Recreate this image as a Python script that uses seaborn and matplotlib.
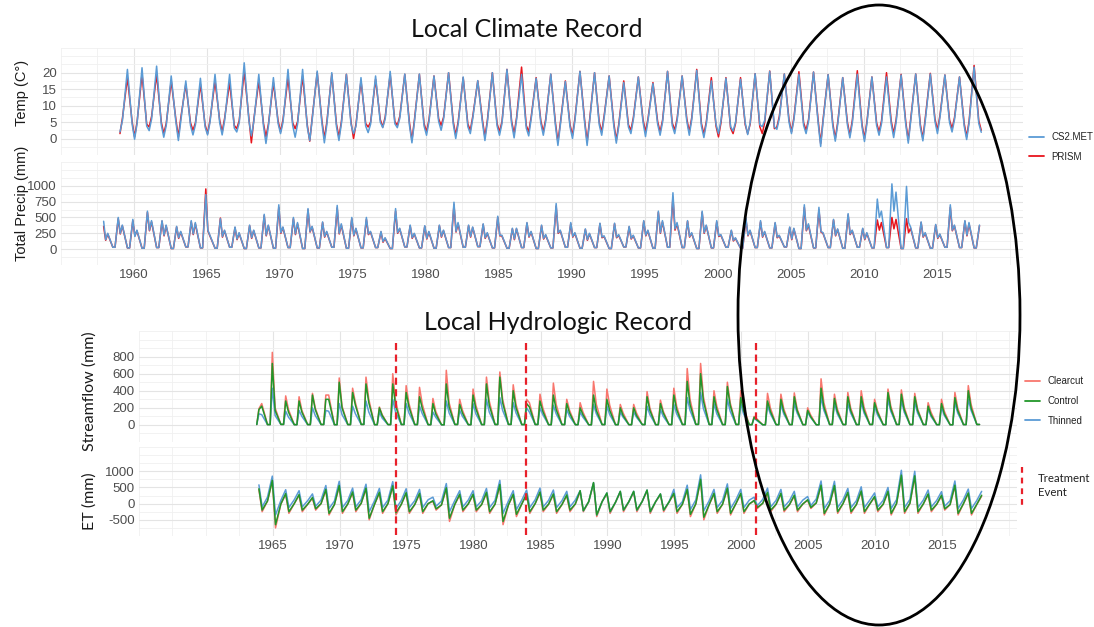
import numpy as np
import pandas as pd
import matplotlib
matplotlib.use("Agg")
import matplotlib.pyplot as plt
import matplotlib.transforms as mtransforms
from matplotlib.lines import Line2D
from matplotlib.patches import Ellipse
import seaborn as sns

# ----------------------------------------------------------------- data
# Temperature (deg C) per calendar year: Jan minimum, Mar, Jul maximum, Nov
TEMP_FIRST_YEAR = 1959
temp_max_cs2met = [21.0, 21.5, 22.0, 19.0, 17.5, 18.3, 19.5, 19.5, 23.0, 19.5,
                   18.5, 21.0, 21.0, 20.5, 20.0, 19.5, 18.5, 19.0, 20.4, 19.6,
                   19.6, 19.0, 20.0, 18.7, 17.6, 20.0, 21.0, 19.5, 18.3, 19.6,
                   17.3, 20.4, 20.0, 19.0, 17.0, 18.7, 16.7, 20.4, 19.0, 20.7,
                   17.5, 18.3, 18.0, 19.7, 20.4, 19.6, 19.5, 20.2, 19.4, 18.5,
                   19.5, 18.7, 18.7, 19.3, 19.6, 19.6, 19.3, 18.7, 21.7]
temp_min_cs2met = [2.0, -0.2, 2.4, 0.4, -0.6, 1.1, 1.1, 1.1, 2.0, 0.8,
                   -1.5, 1.5, 0.4, -0.6, -1.3, -0.6, 1.5, 1.8, 3.3, 3.3,
                   -1.3, 1.0, 2.5, 0.0, 1.5, -0.6, 1.0, 0.2, 0.8, 1.0,
                   -2.1, 0.0, -2.1, 1.0, -1.4, 1.5, 0.6, 1.0, 1.5, 1.0,
                   0.3, 1.5, 2.3, 1.2, 3.6, 2.8, 1.5, 1.5, -2.4, -0.8,
                   0.2, -0.9, 1.0, 0.3, -1.4, -0.7, 1.5, 2.0, -0.3, 1.9]
temp_mar_cs2met = [5.5, 4.5, 6.0, 4.0, 5.5, 4.2, 5.0, 5.5, 4.8, 5.2,
                   3.8, 5.0, 4.5, 5.8, 4.2, 4.6, 3.8, 4.4, 6.0, 6.2,
                   5.0, 5.2, 6.0, 4.5, 6.2, 5.0, 4.6, 5.8, 6.0, 5.4,
                   4.2, 5.6, 5.0, 6.4, 3.8, 5.8, 5.4, 5.0, 5.6, 5.8,
                   4.6, 5.4, 5.0, 4.8, 5.6, 6.2, 5.8, 5.2, 5.4, 4.4,
                   4.8, 4.6, 4.6, 5.0, 5.4, 5.6, 6.4, 5.8, 4.8]
temp_nov_cs2met = [4.5, 3.8, 4.2, 5.0, 4.0, 3.5, 4.8, 3.2, 5.5, 3.8,
                   4.6, 4.0, 3.5, 4.8, 3.6, 4.2, 3.8, 5.0, 4.5, 4.0,
                   3.8, 5.2, 4.4, 3.6, 4.8, 3.9, 4.5, 3.2, 4.6, 4.0,
                   3.5, 4.8, 4.2, 3.8, 3.5, 5.0, 4.4, 4.0, 5.2, 3.8,
                   4.4, 3.6, 4.8, 4.2, 3.5, 5.0, 4.0, 4.6, 3.8, 4.2,
                   3.6, 4.0, 4.5, 4.2, 3.4, 5.2, 4.8, 3.8, 4.6]
temp_max_prism = [18.5, 19.5, 19.5, 17.5, 16.5, 16.5, 17.5, 17.0, 20.5, 17.5,
                  17.0, 18.5, 19.0, 20.0, 19.5, 19.5, 17.5, 18.0, 19.5, 19.5,
                  19.5, 19.0, 20.0, 18.5, 17.5, 20.0, 21.0, 21.7, 18.5, 19.5,
                  17.5, 20.4, 20.0, 19.0, 17.5, 18.7, 17.0, 20.4, 19.0, 21.0,
                  18.5, 18.5, 18.5, 19.7, 20.5, 19.6, 20.3, 20.2, 19.4, 18.5,
                  20.6, 18.7, 20.0, 19.5, 19.6, 19.8, 19.3, 18.7, 22.2]
temp_min_prism = [1.5, 0.5, 3.5, 1.5, 0.5, 2.5, 1.5, 2.0, 3.0, -1.3,
                  0.5, 2.0, 3.0, -0.8, 0.0, 0.5, 0.0, 3.5, 3.5, 4.0,
                  -0.5, 2.0, 4.0, 1.0, 2.5, 0.5, 2.0, 1.5, 2.0, 2.0,
                  -1.0, 1.0, -1.0, 2.0, -0.5, 2.5, 2.0, 2.0, 2.5, 2.0,
                  1.3, 0.5, 1.5, 1.5, 1.5, 3.5, 2.0, 2.5, -1.5, 0.0,
                  1.0, 0.0, 2.0, 1.5, -0.5, 0.0, 2.5, 3.0, 0.5, 2.5]
temp_mar_prism = [6.2, 5.0, 6.8, 4.6, 6.4, 4.8, 5.6, 6.2, 5.5, 5.8,
                  4.4, 5.8, 5.2, 6.4, 5.0, 5.2, 4.5, 5.0, 6.6, 6.8,
                  5.6, 5.8, 6.5, 5.2, 6.8, 5.6, 5.2, 6.4, 6.6, 6.0,
                  4.8, 6.2, 5.6, 7.0, 4.4, 6.4, 6.0, 5.6, 6.2, 6.4,
                  5.2, 4.8, 4.6, 4.4, 5.0, 6.8, 6.4, 5.8, 6.0, 5.0,
                  5.6, 5.2, 5.4, 5.8, 6.0, 6.4, 7.0, 6.4, 5.4]
temp_nov_prism = [5.2, 4.4, 5.0, 5.8, 4.8, 4.2, 5.6, 4.0, 6.2, 4.6,
                  5.4, 4.8, 4.2, 5.6, 4.4, 5.0, 4.6, 5.8, 5.2, 4.8,
                  4.6, 6.0, 5.2, 4.4, 5.6, 4.6, 5.2, 4.0, 5.4, 4.8,
                  4.2, 5.6, 5.0, 4.6, 4.2, 5.8, 5.2, 4.8, 6.0, 4.6,
                  3.8, 3.2, 4.2, 3.6, 3.0, 5.8, 4.8, 5.4, 4.6, 5.0,
                  4.4, 4.8, 5.4, 5.0, 4.2, 6.0, 5.6, 4.6, 5.4]

# Total precipitation (mm) per winter: early-Dec peak, Jan, Mar, summer low
PRECIP_FIRST_WINTER = 1958
precip_winter_cs2met = [440, 500, 470, 600, 450, 360, 450, 860, 480, 350,
                        380, 550, 700, 500, 640, 430, 690, 500, 500, 280,
                        640, 380, 370, 380, 740, 380, 400, 520, 330, 420,
                        380, 720, 420, 320, 410, 410, 360, 450, 600, 890,
                        450, 600, 450, 300, 490, 450, 420, 350, 700, 660,
                        470, 560, 330, 790, 1030, 990, 430, 390, 700, 450,
                        380]
precip_winter_prism = [360, 480, 450, 580, 440, 350, 430, 950, 490, 340,
                       370, 530, 660, 480, 620, 420, 650, 480, 470, 270,
                       600, 370, 360, 370, 700, 370, 390, 500, 320, 410,
                       370, 680, 400, 310, 400, 400, 350, 440, 580, 820,
                       440, 580, 430, 290, 470, 430, 410, 340, 660, 620,
                       460, 540, 320, 460, 500, 480, 420, 380, 660, 440,
                       370]
precip_jan_cs2met = [150, 250, 200, 300, 220, 180, 240, 300, 200, 160,
                     180, 220, 260, 240, 280, 200, 250, 220, 240, 120,
                     260, 180, 170, 200, 280, 200, 180, 220, 160, 200,
                     170, 260, 200, 150, 190, 190, 170, 220, 260, 320,
                     200, 260, 210, 140, 220, 200, 190, 160, 300, 280,
                     220, 240, 160, 500, 600, 420, 200, 180, 300, 220]
precip_jan_prism = [140, 240, 210, 290, 210, 170, 230, 290, 190, 150,
                    170, 210, 250, 230, 270, 190, 240, 210, 230, 110,
                    250, 170, 160, 190, 270, 190, 170, 210, 150, 190,
                    160, 250, 190, 140, 180, 180, 160, 210, 250, 300,
                    190, 250, 200, 130, 210, 190, 180, 150, 290, 270,
                    210, 230, 150, 300, 320, 260, 190, 170, 290, 210]
precip_spring_cs2met = [250, 380, 300, 450, 380, 280, 420, 220, 300, 260,
                        300, 380, 350, 420, 360, 280, 400, 330, 280, 180,
                        330, 250, 280, 300, 420, 350, 260, 220, 330, 280,
                        230, 300, 260, 250, 210, 230, 220, 300, 450, 420,
                        260, 380, 230, 180, 300, 280, 220, 330, 400, 260,
                        320, 300, 260, 600, 900, 350, 260, 240, 380, 420]
precip_spring_prism = [240, 370, 290, 430, 370, 270, 400, 210, 290, 250,
                       290, 370, 340, 400, 350, 270, 380, 320, 270, 170,
                       320, 240, 270, 290, 400, 340, 250, 210, 320, 270,
                       220, 290, 250, 240, 200, 220, 210, 290, 430, 400,
                       250, 370, 220, 170, 290, 270, 210, 320, 380, 250,
                       310, 290, 250, 420, 470, 330, 250, 230, 370, 400]
precip_summer = [30, 20, 15, 25, 10, 35, 20, 15, 30, 10,
                 20, 15, 25, 10, 20, 30, 15, 20, 25, 10,
                 35, 20, 15, 25, 30, 40, 20, 15, 25, 10,
                 20, 30, 15, 25, 10, 35, 20, 15, 30, 25,
                 10, 20, 30, 15, 25, 20, 35, 10, 20, 25,
                 15, 30, 20, 25, 10, 20, 15, 30, 25, 20]

# Streamflow (mm) per water year: winter peak (Dec), spring (Mar); summer baseflow
FLOW_FIRST_WY = 1964
FLOW_FIRST_SUMMER = 1963
flow_peak_clearcut = [190, 850, 340, 330, 370, 350, 550, 430, 560, 210,
                      600, 460, 440, 310, 640, 300, 420, 560, 620, 470,
                      300, 360, 490, 300, 260, 510, 420, 240, 240, 390,
                      290, 430, 660, 720, 400, 500, 400, 100, 370, 360,
                      375, 200, 540, 360, 380, 400, 300, 420, 410, 370,
                      260, 300, 380, 460]
flow_peak_control = [180, 720, 280, 280, 350, 300, 500, 380, 480, 200,
                     480, 380, 330, 250, 480, 240, 350, 480, 560, 400,
                     250, 280, 350, 250, 200, 350, 300, 200, 200, 330,
                     250, 350, 510, 600, 330, 450, 320, 90, 280, 300,
                     330, 170, 430, 310, 330, 330, 260, 380, 360, 330,
                     220, 250, 320, 400]
flow_peak_thinned = [130, 430, 160, 170, 200, 170, 250, 220, 280, 150,
                     300, 250, 220, 150, 280, 170, 250, 300, 320, 260,
                     200, 200, 230, 180, 150, 240, 220, 150, 150, 220,
                     180, 240, 320, 380, 250, 300, 250, 80, 230, 240,
                     250, 150, 330, 250, 250, 270, 220, 300, 290, 260,
                     190, 210, 260, 300]
flow_spring_clearcut = [250, 200, 180, 170, 200, 350, 220, 260, 300, 120,
                        280, 250, 240, 160, 260, 170, 230, 280, 300, 240,
                        260, 200, 240, 170, 150, 240, 230, 140, 140, 200,
                        160, 220, 300, 330, 220, 260, 210, 70, 200, 190,
                        190, 120, 260, 190, 200, 210, 170, 220, 210, 190,
                        150, 160, 200, 240]
flow_spring_control = [220, 170, 150, 150, 180, 300, 200, 230, 260, 110,
                       230, 210, 190, 130, 210, 140, 190, 230, 260, 200,
                       210, 160, 180, 140, 120, 170, 170, 110, 110, 170,
                       140, 180, 240, 280, 180, 230, 170, 60, 160, 160,
                       170, 100, 210, 160, 170, 170, 150, 190, 180, 170,
                       120, 130, 170, 200]
flow_spring_thinned = [120, 110, 90, 100, 110, 160, 120, 130, 150, 80,
                       150, 140, 130, 90, 140, 100, 130, 150, 170, 140,
                       150, 120, 130, 100, 90, 130, 120, 90, 90, 120,
                       100, 130, 170, 190, 130, 160, 130, 50, 130, 130,
                       140, 90, 170, 130, 140, 140, 120, 160, 150, 140,
                       100, 110, 140, 170]
flow_summer = [5, 4, 6, 3, 4, 5, 3, 4, 6, 3,
               4, 5, 4, 3, 2, 5, 3, 4, 5, 6,
               4, 5, 3, 4, 3, 2, 4, 3, 3, 4,
               3, 4, 5, 6, 5, 4, 5, 3, 2, 3,
               4, 3, 2, 5, 4, 4, 5, 3, 5, 4,
               4, 3, 2, 4, 5]

# ET (mm) per water year: winter peak (Dec), spring trough (Mar); summer value (Aug)
et_peak_thinned = [580, 850, 430, 400, 300, 560, 690, 480, 600, 470,
                   680, 460, 440, 200, 620, 400, 400, 470, 720, 400,
                   420, 480, 420, 380, 400, 650, 330, 380, 380, 420,
                   300, 440, 570, 890, 440, 610, 440, 200, 480, 440,
                   380, 220, 700, 690, 470, 520, 330, 500, 1030, 1000,
                   420, 370, 700, 450, 380]
et_peak_control = [460, 720, 310, 280, 190, 440, 560, 360, 480, 350,
                   550, 340, 320, 90, 490, 290, 290, 350, 590, 290,
                   300, 360, 300, 270, 400, 650, 330, 380, 380, 420,
                   300, 320, 440, 750, 320, 480, 320, 100, 350, 320,
                   260, 120, 570, 560, 350, 390, 220, 380, 880, 860,
                   300, 260, 570, 330, 260]
et_peak_clearcut = [430, 690, 280, 250, 160, 410, 530, 330, 450, 320,
                    520, 310, 290, 70, 460, 260, 260, 320, 560, 260,
                    270, 330, 270, 240, 370, 620, 300, 350, 350, 390,
                    270, 290, 410, 720, 290, 450, 290, 80, 320, 290,
                    230, 100, 540, 530, 320, 360, 190, 350, 850, 830,
                    270, 230, 540, 300, 230]
et_trough_thinned = [-100, -350, -120, -100, -80, -150, -120, -100, -250, -120,
                     -150, -120, -120, -80, -250, -100, -100, -120, -300, -180,
                     -120, -100, -120, -100, -220, -350, -250, -200, -200, -250,
                     -200, -120, -180, -220, -120, -150, -120, -60, -100, -100,
                     -100, -60, -150, -120, -120, -120, -100, -150, -120, -120,
                     -100, -80, -150, -150]
et_trough_control = [-200, -650, -250, -200, -160, -300, -250, -200, -450, -250,
                     -280, -250, -250, -160, -450, -200, -200, -250, -550, -330,
                     -250, -200, -250, -200, -220, -350, -250, -200, -200, -250,
                     -200, -250, -330, -420, -250, -300, -250, -120, -200, -200,
                     -200, -120, -300, -250, -250, -250, -200, -300, -250, -250,
                     -200, -160, -300, -300]
et_trough_clearcut = [-250, -750, -300, -250, -200, -350, -300, -250, -500, -300,
                      -350, -300, -300, -200, -550, -250, -250, -300, -650, -400,
                      -300, -250, -300, -250, -250, -400, -300, -250, -250, -300,
                      -250, -300, -400, -500, -300, -350, -300, -150, -250, -250,
                      -250, -150, -350, -300, -300, -300, -250, -350, -300, -300,
                      -250, -200, -350, -350]
et_summer_thinned = [200, 100, 120, 90, 110, 80, 100, 120, 90, 110,
                     100, 90, 120, 80, 100, 110, 90, 100, 80, 110,
                     120, 100, 90, 110, 60, 60, 40, 60, 70, 60,
                     50, 60, 110, 90, 100, 120, 110, 130, 100, 90,
                     110, 140, 100, 120, 90, 110, 100, 120, 130, 110,
                     100, 90, 120, 100]
et_summer_treated = [80, -10, 0, -20, 0, -30, -10, 10, -20, 0,
                     -20, -30, 0, -40, -20, -10, -30, -20, -40, -10,
                     0, -20, -30, -10, 60, 60, 40, 60, 70, 60,
                     50, -20, -10, -30, -20, 0, -10, 10, -20, -30,
                     -10, 20, -20, 0, -30, -10, -20, 0, 10, -10,
                     -20, -30, 0, -20]

treatment_years = [1974.2, 1983.9, 2001.1]

top_year_ticks = [1960, 1965, 1970, 1975, 1980, 1985, 1990, 1995, 2000, 2005, 2010, 2015]
bottom_year_ticks = [1965, 1970, 1975, 1980, 1985, 1990, 1995, 2000, 2005, 2010, 2015]
temp_ticks = [0, 5, 10, 15, 20]
precip_ticks = [0, 250, 500, 750, 1000]
flow_ticks = [0, 200, 400, 600, 800]
et_ticks = [-500, 0, 500, 1000]

# month offsets (fraction of year) at which each reading is placed
JAN, MAR, JUL, AUG, SEP, OCT, NOV = 0.04, 0.17, 0.55, 0.6, 0.7, 0.8, 0.87


def temp_frame(name, tmin, tmar, tmax, tnov):
    y0 = TEMP_FIRST_YEAR
    t, v = [], []
    for vals, off in ((tmin, JAN), (tmar, MAR + 0.04), (tmax, JUL), (tnov, NOV)):
        t += [y0 + i + off for i in range(len(vals))]
        v += list(vals)
    return pd.DataFrame({"year": t, "value": v, "source": name})


def precip_frame(name, winter, jan, spring, summer):
    w0 = PRECIP_FIRST_WINTER
    t, v = [], []
    for vals, off in ((winter, -0.08), (jan, 0.06), (spring, MAR + 0.03),
                      (summer, JUL), (summer, SEP)):
        t += [w0 + i + off for i in range(len(vals))]
        v += list(vals)
    df = pd.DataFrame({"year": t, "value": v, "source": name})
    return df[df.year >= 1957.9]


def flow_frame(name, peak, spring, summer):
    t = [FLOW_FIRST_WY + i - 0.04 for i in range(len(peak))]
    t += [FLOW_FIRST_WY + i + MAR for i in range(len(spring))]
    t += [FLOW_FIRST_SUMMER + i + AUG for i in range(len(summer))]
    t += [FLOW_FIRST_SUMMER + i + OCT for i in range(len(summer))]
    v = list(peak) + list(spring) + list(summer) + list(summer)
    df = pd.DataFrame({"year": t, "value": v, "source": name})
    return df[df.year >= 1963.75]


def et_frame(name, peak, trough, summer):
    t = [FLOW_FIRST_WY + i - 0.04 for i in range(len(peak))]
    t += [FLOW_FIRST_WY + i + MAR + 0.03 for i in range(len(trough))]
    t += [FLOW_FIRST_WY + i + AUG for i in range(len(summer))]
    v = list(peak) + list(trough) + list(summer)
    return pd.DataFrame({"year": t, "value": v, "source": name})


temp_df = pd.concat([
    temp_frame("CS2.MET", temp_min_cs2met, temp_mar_cs2met, temp_max_cs2met, temp_nov_cs2met),
    temp_frame("PRISM", temp_min_prism, temp_mar_prism, temp_max_prism, temp_nov_prism)])
precip_df = pd.concat([
    precip_frame("CS2.MET", precip_winter_cs2met, precip_jan_cs2met, precip_spring_cs2met, precip_summer),
    precip_frame("PRISM", precip_winter_prism, precip_jan_prism, precip_spring_prism, precip_summer)])
flow_df = pd.concat([
    flow_frame("Clearcut", flow_peak_clearcut, flow_spring_clearcut, flow_summer),
    flow_frame("Control", flow_peak_control, flow_spring_control, flow_summer),
    flow_frame("Thinned", flow_peak_thinned, flow_spring_thinned, flow_summer)])
et_df = pd.concat([
    et_frame("Clearcut", et_peak_clearcut, et_trough_clearcut, et_summer_treated),
    et_frame("Control", et_peak_control, et_trough_control, et_summer_treated),
    et_frame("Thinned", et_peak_thinned, et_trough_thinned, et_summer_thinned)])

# ----------------------------------------------------------------- style
sns.set_theme(style="white")
plt.rcParams["font.family"] = ["Liberation Sans", "DejaVu Sans"]
plt.rcParams["axes.unicode_minus"] = False

W, H = 1094, 627
fig = plt.figure(figsize=(W / 100, H / 100), dpi=100)
fig.patch.set_facecolor("white")

met_pal = {"CS2.MET": "#5b9bd5", "PRISM": "#e8141c"}
shed_pal = {"Clearcut": "#f8766d", "Control": "#22962a", "Thinned": "#5b9bd5"}
DASH_RED = "#e8202a"
LATO = ["Lato", "DejaVu Sans"]


def px_axes(x0, y0, x1, y1):
    return fig.add_axes([x0 / W, 1 - y1 / H, (x1 - x0) / W, (y1 - y0) / H])


def style(ax, xlim, xmajor, ylim, ymajor, ystep, show_x):
    ax.set_xlim(*xlim)
    ax.set_ylim(*ylim)
    ax.set_xticks(xmajor)
    ax.set_xticks(np.arange(1955.0, 2021.0, 2.5), minor=True)
    ax.set_yticks(ymajor)
    ax.set_yticks(np.arange(ymajor[0] - ystep, ymajor[-1] + 2 * ystep, ystep / 2.0), minor=True)
    ax.grid(which="major", color="#e4e4e4", lw=0.8)
    ax.grid(which="minor", color="#f0f0f0", lw=0.6)
    ax.set_axisbelow(True)
    for s in ax.spines.values():
        s.set_visible(False)
    ax.tick_params(which="both", length=0, labelsize=9.5, labelcolor="#4d4d4d", pad=3)
    if not show_x:
        ax.tick_params(axis="x", labelbottom=False)
    ax.set_xlabel("")
    ax.set_ylabel("")


# ---- climate record
TOP_X = (1955.8, 2020.9)
ax_t = px_axes(61, 48, 1023, 155)
sns.lineplot(data=temp_df, x="year", y="value", hue="source", hue_order=["PRISM", "CS2.MET"],
             palette=met_pal, estimator=None, legend=False, lw=1.1, ax=ax_t)
style(ax_t, TOP_X, top_year_ticks, (-2.31, 25.13), temp_ticks, 5, False)

ax_p = px_axes(61, 162, 1023, 265)
sns.lineplot(data=precip_df, x="year", y="value", hue="source", hue_order=["PRISM", "CS2.MET"],
             palette=met_pal, estimator=None, legend=False, lw=1.1, ax=ax_p)
style(ax_p, TOP_X, top_year_ticks, (-66, 1066), precip_ticks, 250, True)

# ---- hydrologic record
BOT_X = (1961.05, 2020.6)
ax_q = px_axes(139, 331, 1017, 442)
sns.lineplot(data=flow_df, x="year", y="value", hue="source",
             hue_order=["Clearcut", "Thinned", "Control"],
             palette=shed_pal, estimator=None, legend=False, lw=1.1, ax=ax_q)
style(ax_q, BOT_X, bottom_year_ticks, (-42.6, 902), flow_ticks, 200, False)

ax_e = px_axes(139, 447, 1017, 536)
sns.lineplot(data=et_df, x="year", y="value", hue="source",
             hue_order=["Clearcut", "Thinned", "Control"],
             palette=shed_pal, estimator=None, legend=False, lw=1.1, ax=ax_e)
style(ax_e, BOT_X, bottom_year_ticks, (-817, 1097), et_ticks, 500, True)

# treatment event lines across both hydrologic panels
blend = mtransforms.blended_transform_factory(ax_q.transData, fig.transFigure)
for yr in treatment_years:
    fig.add_artist(Line2D([yr, yr], [1 - 343 / H, 1 - 539 / H], transform=blend, color=DASH_RED,
                          lw=1.6, dashes=(3.2, 2.0), clip_on=False, zorder=5))

# ---- titles and axis labels
fig.text(527 / W, 1 - 37 / H, "Local Climate Record", ha="center", va="baseline",
         fontsize=18, family=LATO, color="#111111")
fig.text(558 / W, 1 - 330 / H, "Local Hydrologic Record", ha="center", va="baseline",
         fontsize=18, family=LATO, color="#111111")
fig.text(22 / W, 1 - 93 / H, "Temp (C°)", rotation=90, ha="center", va="center",
         fontsize=10.5, color="#1a1a1a")
fig.text(22 / W, 1 - 203 / H, "Total Precip (mm)", rotation=90, ha="center", va="center",
         fontsize=10.5, color="#1a1a1a")
fig.text(90 / W, 1 - 391 / H, "Streamflow (mm)", rotation=90, ha="center", va="center",
         fontsize=11.5, family=LATO, color="#1a1a1a")
fig.text(90 / W, 1 - 501 / H, "ET (mm)", rotation=90, ha="center", va="center",
         fontsize=11.5, family=LATO, color="#1a1a1a")

# ---- legends
met_handles = [Line2D([], [], color=met_pal[k], lw=1.3) for k in ["CS2.MET", "PRISM"]]
fig.legend(met_handles, ["CS2.MET", "PRISM"], loc="center left",
           bbox_to_anchor=(1029 / W, 1 - 147 / H), frameon=False, fontsize=7,
           handlelength=1.5, handletextpad=0.8, labelspacing=1.0,
           borderaxespad=0, borderpad=0, labelcolor="#222222")
shed_handles = [Line2D([], [], color=shed_pal[k], lw=1.3) for k in ["Clearcut", "Control", "Thinned"]]
fig.legend(shed_handles, ["Clearcut", "Control", "Thinned"], loc="center left",
           bbox_to_anchor=(1025 / W, 1 - 401 / H), frameon=False, fontsize=7,
           handlelength=1.5, handletextpad=0.8, labelspacing=1.0,
           borderaxespad=0, borderpad=0, labelcolor="#222222")
fig.add_artist(Line2D([1022 / W, 1022 / W], [1 - 467 / H, 1 - 509 / H], transform=fig.transFigure,
                      color=DASH_RED, lw=1.6, dashes=(2.6, 2.2)))
fig.text(1038 / W, 1 - 478 / H, "Treatment", ha="left", va="center", fontsize=8.2,
         family=LATO, color="#222222")
fig.text(1038 / W, 1 - 493 / H, "Event", ha="left", va="center", fontsize=8.2,
         family=LATO, color="#222222")

# ---- highlight ellipse
fig.add_artist(Ellipse((879 / W, 1 - 315 / H), 282 / W, 620 / H, transform=fig.transFigure,
                       fill=False, ec="black", lw=2.0, zorder=10))

fig.savefig("out.png", dpi=100, facecolor="white")
